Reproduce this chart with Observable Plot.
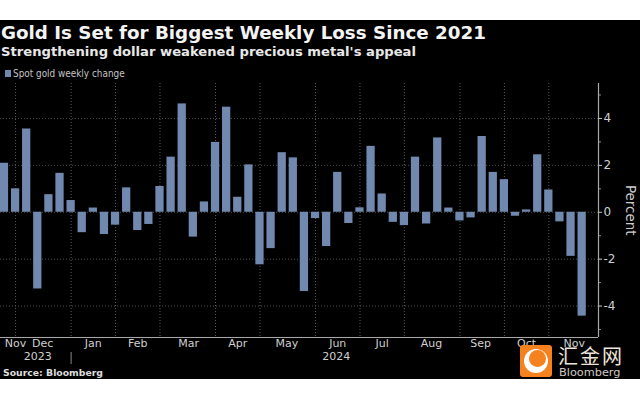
<!DOCTYPE html>
<html>
<head>
<meta charset="utf-8">
<script src="https://cdn.jsdelivr.net/npm/d3@7"></script>
<script src="https://cdn.jsdelivr.net/npm/@observablehq/plot@0.6"></script>
<style>
html,body{margin:0;padding:0;background:#fff;width:640px;height:400px;overflow:hidden}
#card{position:absolute;left:0;top:20px;width:640px;height:359px;background:#000;overflow:hidden;font-family:"DejaVu Sans",sans-serif;color:#fff}
.abs{position:absolute;white-space:nowrap}
#title{left:1px;top:0px;font-size:18.3px;font-weight:700;line-height:26px;color:#f4f4f4}
#sub{left:1px;top:22px;font-size:13.15px;font-weight:700;line-height:20px;color:#e8e8e8}
#legend{left:13px;top:47px;font-size:9.9px;line-height:14px;color:#c4c4c4;font-stretch:condensed}
#swatch{left:5px;top:50px;width:6px;height:7px;background:#7189ae}
#plot{left:0;top:63px}
#percent{left:623px;top:165px;width:14px;font-size:13.4px;color:#ccc;writing-mode:vertical-rl;line-height:14px}
#source{left:3px;top:347px;font-size:9.3px;font-weight:700;color:#ddd;line-height:12px}
#logo{left:520px;top:325px;width:32px;height:32px;border-radius:3px;background:#f5811f;overflow:hidden}
#logo i{position:absolute;left:4px;top:4px;width:24px;height:24px;border-radius:50%;background:#fff}
#logo b{position:absolute;left:9px;top:5px;width:17px;height:17px;border-radius:50%;background:#f5811f}
#hj{left:558px;top:325px;font-family:"Noto Sans CJK SC";font-size:20px;letter-spacing:2px;line-height:21px;color:#efe3d8}
#bb{left:559px;top:346px;font-size:11.3px;line-height:13px;color:#cfc8c2}
</style>
</head>
<body>
<div id="card">
  <div class="abs" id="title">Gold Is Set for Biggest Weekly Loss Since 2021</div>
  <div class="abs" id="sub">Strengthening dollar weakened precious metal's appeal</div>
  <div class="abs" id="swatch"></div>
  <div class="abs" id="legend">Spot gold weekly change</div>
  <div class="abs" id="plot"></div>
  <div class="abs" id="percent">Percent</div>
  <div class="abs" id="source">Source: Bloomberg</div>
  <div class="abs" id="logo"><i></i><b></b></div>
  <div class="abs" id="hj">汇金网</div>
  <div class="abs" id="bb">Bloomberg</div>
</div>
<script>
const weeklyChange = [2.09,1.0,3.55,-3.27,0.75,1.66,0.5,-0.87,0.18,-0.95,-0.55,1.04,-0.78,-0.52,1.1,2.35,4.62,-1.06,0.44,2.98,4.48,0.64,2.02,-2.24,-1.55,2.54,2.32,-3.38,-0.27,-1.46,1.7,-0.48,0.19,2.81,0.78,-0.43,-0.57,2.35,-0.5,3.17,0.18,-0.37,-0.24,3.23,1.7,1.39,-0.17,0.1,2.45,0.95,-0.41,-1.88,-4.43];
const firstWeek = Date.UTC(2023,10,17);
const dayMs = 864e5;
const weeks = weeklyChange.map((_, i) => new Date(firstWeek + i*7*dayMs));
const monthBreaks = ["2023-11-24","2023-12-29","2024-01-26","2024-02-23","2024-03-29","2024-04-26","2024-05-31","2024-06-28","2024-07-26","2024-08-30","2024-09-27","2024-10-25"].map(d=>new Date(d));
const monthNames = ["Nov","Dec","Jan","Feb","Mar","Apr","May","Jun","Jul","Aug","Sep","Oct","Nov"];
const monthLabelDates = ["2023-11-24","2023-12-11","2024-01-12","2024-02-09","2024-03-12","2024-04-12","2024-05-13","2024-06-14","2024-07-12","2024-08-12","2024-09-12","2024-10-11","2024-11-10"].map(d=>new Date(d));
const yearNames = ["2023","2024"];
const yearLabelDates = ["2023-12-08","2024-06-13"].map(d=>new Date(d));
const yearDivider = [new Date("2023-12-29")];
const majorTicks = [-4,-2,0,2,4];
const minorTicks = [-5,-3,-1,1,3,5];

const rows = weeks.map((w,i)=>({w, v:weeklyChange[i]}));
const halfBar = 2.6*dayMs;
const txt = "#cfcfcf";
const fontFamily = '"DejaVu Sans", sans-serif';

const chart = Plot.plot({
  width:640, height:283,
  marginLeft:0, marginRight:42, marginTop:0, marginBottom:29,
  style:{background:"transparent", color:txt, fontFamily, overflow:"visible"},
  x:{type:"utc", domain:[new Date(firstWeek-2.5*dayMs), new Date(firstWeek+374.3*dayMs)]},
  y:{domain:[-5.34,5.49]},
  marks:[
    Plot.ruleY(majorTicks,{stroke:"#4d4d4d",strokeWidth:1,strokeDasharray:"1,2"}),
    Plot.ruleX(monthBreaks,{stroke:"#5a5a5a",strokeWidth:1,strokeDasharray:"1,2"}),
    Plot.rectY(rows,{x1:d=>new Date(+d.w-halfBar),x2:d=>new Date(+d.w+halfBar),y1:0,y2:"v",fill:"#7189ae"}),
    Plot.ruleY([-5.34],{stroke:"#a8a8a8",strokeWidth:1.2}),
    Plot.ruleX(yearDivider,{y1:-5.98,y2:-6.49,stroke:"#8a8a8a",strokeWidth:1}),
    Plot.axisX({anchor:"bottom",ticks:monthLabelDates,tickFormat:(d,i)=>monthNames[i],tickSize:0,tickPadding:2,fontSize:11,stroke:"none",fill:txt,label:null}),
    Plot.axisX({anchor:"bottom",ticks:yearLabelDates,tickFormat:(d,i)=>yearNames[i],tickSize:0,tickPadding:15,fontSize:11,stroke:"none",fill:txt,label:null}),
    Plot.ruleX([new Date(firstWeek+374.3*dayMs)],{stroke:"#a8a8a8",strokeWidth:1.2}),
    Plot.axisY({anchor:"right",ticks:majorTicks,tickSize:3,tickPadding:2,fontSize:12,stroke:"#c8c8c8",fill:txt,label:null,tickFormat:d=>d}),
    Plot.axisY({anchor:"right",ticks:minorTicks,tickSize:2,stroke:"#8a8a8a",tickFormat:()=>"",label:null})
  ]
});
document.getElementById("plot").appendChild(chart);
</script>
</body>
</html>
